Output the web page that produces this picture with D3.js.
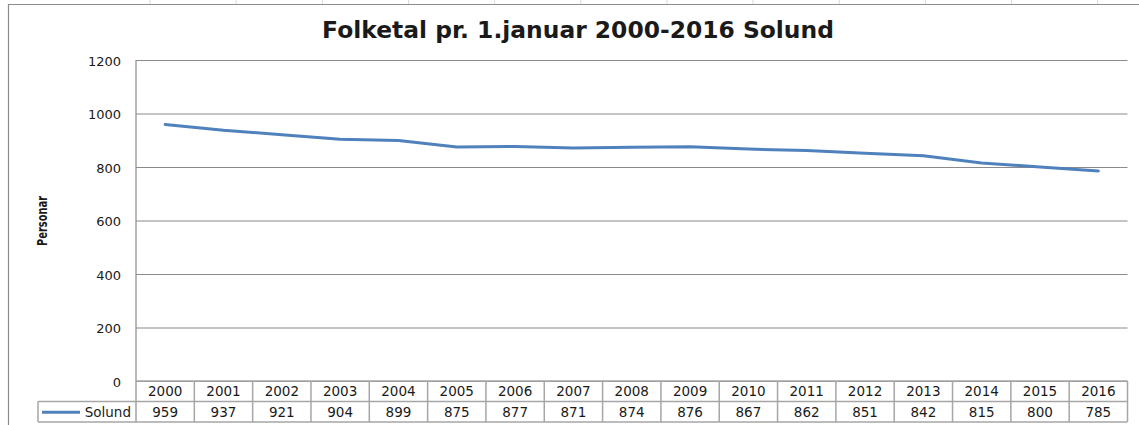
<!DOCTYPE html>
<html>
<head>
<meta charset="utf-8">
<script src="https://cdn.jsdelivr.net/npm/d3@7"></script>
<style>
  html, body { margin: 0; padding: 0; background: #fff; }
  svg { display: block; }
  text { font-family: "DejaVu Sans", Verdana, sans-serif; fill: #1a1a1a; }
</style>
</head>
<body>
<svg id="chart" width="1139" height="425"></svg>
<script>
const years = ['2000', '2001', '2002', '2003', '2004', '2005', '2006', '2007', '2008',
  '2009', '2010', '2011', '2012', '2013', '2014', '2015', '2016'];
const solund = [959, 937, 921, 904, 899, 875, 877, 871, 874, 876, 867, 862, 851, 842, 815, 800, 785];
const yTicks = [0, 200, 400, 600, 800, 1000, 1200];
const seriesName = 'Solund';
const title = 'Folketal pr. 1.januar 2000-2016 Solund';
const yLabel = 'Personar';

const svg = d3.select('#chart');
const W = 1139, H = 425;

// plot area
const plotLeft = 136, plotRight = 1127.5, plotTop = 60, plotBottom = 381;
const rowH = 20.5;

const x = d3.scaleBand().domain(years).range([plotLeft, plotRight]).padding(0);
const y = d3.scaleLinear().domain([0, 1200]).range([plotBottom, plotTop]);

// spreadsheet column lines peeking above the chart frame
svg.append('g')
  .selectAll('line')
  .data(d3.range(12))
  .join('line')
  .attr('x1', d => 150 + d * 86.15).attr('x2', d => 150 + d * 86.15)
  .attr('y1', 0).attr('y2', 4)
  .attr('stroke', '#dadada');

// outer chart frame
svg.append('path')
  .attr('d', `M8.5,${H} V4.5 H${W}`)
  .attr('fill', 'none')
  .attr('stroke', '#8c8c8c')
  .attr('stroke-width', 1.2);

// title
const t = svg.append('text')
  .attr('x', 578).attr('y', 38)
  .attr('text-anchor', 'middle')
  .attr('font-weight', 'bold')
  .attr('font-size', 21)
  .text(title);
const tw = t.node().getComputedTextLength();
t.attr('font-size', 21 * 512 / tw);

// y axis with gridlines
const yAxis = svg.append('g')
  .attr('transform', `translate(${plotLeft},0)`)
  .call(d3.axisLeft(y).tickValues(yTicks).tickSize(-(plotRight - plotLeft)).tickPadding(15).tickFormat(d3.format('d')));
yAxis.select('.domain').remove();
yAxis.selectAll('.tick line').attr('stroke', '#8a8a8a').attr('stroke-width', 1.2);
yAxis.selectAll('.tick text')
  .attr('font-size', 13)
  .attr('font-family', '"DejaVu Sans", Verdana, sans-serif')
  .attr('fill', '#1a1a1a')
  .attr('dy', '0.4em');

// left edge of plot area (runs down through the data table)
svg.append('line')
  .attr('x1', plotLeft).attr('x2', plotLeft)
  .attr('y1', plotTop).attr('y2', plotBottom + 2 * rowH)
  .attr('stroke', '#8a8a8a').attr('stroke-width', 1.2);

// y axis title
svg.append('text')
  .attr('transform', 'translate(47,221) rotate(-90)')
  .attr('text-anchor', 'middle')
  .attr('font-family', '"Liberation Sans Narrow", "Liberation Sans", Arial, sans-serif')
  .attr('font-weight', 'bold')
  .attr('font-size', 14)
  .attr('textLength', 50)
  .attr('lengthAdjust', 'spacingAndGlyphs')
  .text(yLabel);

// line
const line = d3.line()
  .x((d, i) => x(years[i]) + x.bandwidth() / 2)
  .y(d => y(d));

svg.append('path')
  .datum(solund)
  .attr('d', line)
  .attr('fill', 'none')
  .attr('stroke', '#4f81bd')
  .attr('stroke-width', 3)
  .attr('stroke-linejoin', 'round')
  .attr('stroke-linecap', 'round');

// data table
const tbl = svg.append('g');
const gridCol = '#a6a6a6';
const legendLeft = 38;

tbl.selectAll('line.h')
  .data([[plotLeft, plotBottom], [legendLeft, plotBottom + rowH], [legendLeft, plotBottom + 2 * rowH]])
  .join('line')
  .attr('x1', d => d[0]).attr('x2', plotRight)
  .attr('y1', d => d[1]).attr('y2', d => d[1])
  .attr('stroke', gridCol).attr('stroke-width', 1.5);

tbl.selectAll('line.v')
  .data(years)
  .join('line')
  .attr('x1', d => x(d) + x.bandwidth()).attr('x2', d => x(d) + x.bandwidth())
  .attr('y1', plotBottom).attr('y2', plotBottom + 2 * rowH)
  .attr('stroke', gridCol).attr('stroke-width', 1.5);

tbl.append('line')
  .attr('x1', legendLeft).attr('x2', legendLeft)
  .attr('y1', plotBottom + rowH).attr('y2', plotBottom + 2 * rowH)
  .attr('stroke', gridCol).attr('stroke-width', 1.5);

tbl.selectAll('text.yr')
  .data(years)
  .join('text')
  .attr('x', d => x(d) + x.bandwidth() / 2)
  .attr('y', plotBottom + 15)
  .attr('text-anchor', 'middle')
  .attr('font-size', 13.5)
  .text(d => d);

tbl.selectAll('text.val')
  .data(solund)
  .join('text')
  .attr('x', (d, i) => x(years[i]) + x.bandwidth() / 2)
  .attr('y', plotBottom + rowH + 15.5)
  .attr('text-anchor', 'middle')
  .attr('font-size', 13.5)
  .text(d => d);

// legend key inside table
tbl.append('line')
  .attr('x1', 42).attr('x2', 80)
  .attr('y1', plotBottom + rowH * 1.5 + 0.5).attr('y2', plotBottom + rowH * 1.5 + 0.5)
  .attr('stroke', '#4f81bd').attr('stroke-width', 3);
tbl.append('text')
  .attr('x', 131)
  .attr('y', plotBottom + rowH + 15.5)
  .attr('text-anchor', 'end')
  .attr('font-size', 13.5)
  .text(seriesName);
</script>
</body>
</html>
